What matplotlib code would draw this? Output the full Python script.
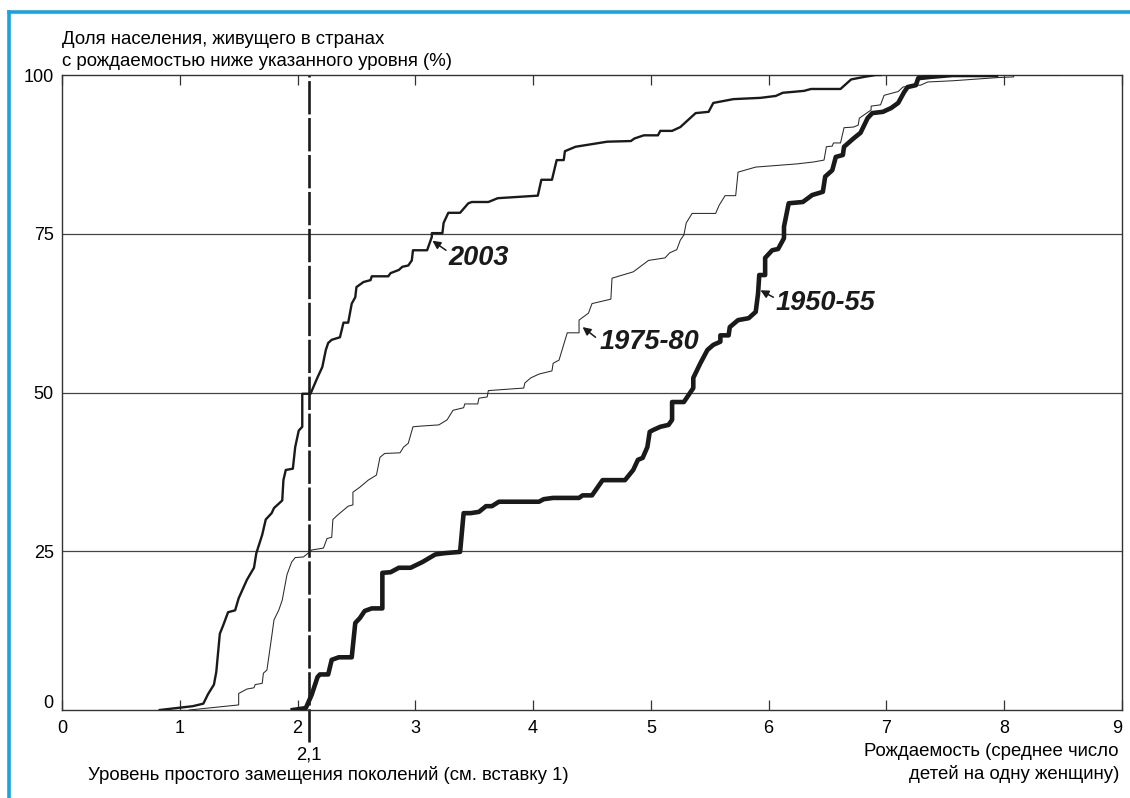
import matplotlib.pyplot as plt
import matplotlib.transforms as mtransforms
from matplotlib.lines import Line2D

plt.rcParams['font.family'] = ['Liberation Sans', 'DejaVu Sans']
plt.rcParams['lines.scale_dashes'] = False

# cumulative share of population (%) by fertility level
curve_2003 = [(0.83, 0), (1.11, 0.6), (1.2, 1), (1.24, 2.5), (1.29, 4), (1.31, 6),
              (1.34, 12), (1.37, 13.4), (1.41, 15.4), (1.47, 15.7), (1.5, 17.6),
              (1.57, 20.5), (1.63, 22.4), (1.65, 24.7), (1.7, 27.6), (1.73, 30),
              (1.78, 31), (1.8, 31.8), (1.87, 33), (1.88, 36.2), (1.9, 37.8),
              (1.96, 38), (1.98, 41.4), (2.01, 44), (2.04, 44.6), (2.04, 49.8),
              (2.11, 49.8), (2.17, 52.4), (2.21, 54), (2.24, 56.7), (2.26, 57.8),
              (2.29, 58.3), (2.36, 58.7), (2.39, 61), (2.43, 61), (2.46, 64),
              (2.49, 65), (2.5, 66.6), (2.56, 67.4), (2.62, 67.7), (2.63, 68.3),
              (2.77, 68.3), (2.79, 68.8), (2.86, 69.3), (2.89, 69.8), (2.94, 70),
              (2.97, 70.8), (2.98, 72.4), (3.1, 72.4), (3.14, 74.5), (3.14, 75.1),
              (3.23, 75.1), (3.24, 76.7), (3.28, 78.3), (3.38, 78.3), (3.45, 79.8),
              (3.48, 80), (3.62, 80), (3.7, 80.6), (4.04, 81), (4.07, 83.5),
              (4.16, 83.5), (4.2, 86.6), (4.26, 86.6), (4.27, 88), (4.36, 88.7),
              (4.63, 89.5), (4.83, 89.6), (4.86, 90), (4.94, 90.5), (5.06, 90.5),
              (5.08, 91.2), (5.18, 91.2), (5.25, 91.8), (5.38, 94), (5.49, 94.2),
              (5.53, 95.6), (5.7, 96.2), (5.93, 96.4), (6.06, 96.7), (6.12, 97.2),
              (6.3, 97.5), (6.36, 97.8), (6.61, 97.8), (6.7, 99.3), (6.81, 99.7),
              (6.91, 100), (6.95, 100)]

curve_1975 = [(1.08, 0), (1.5, 0.8), (1.5, 2.6), (1.57, 3.3), (1.63, 3.5), (1.64, 4),
              (1.7, 4.2), (1.71, 5.8), (1.74, 6.3), (1.78, 11.5), (1.8, 14.2),
              (1.84, 15.7), (1.87, 17.3), (1.91, 21.3), (1.95, 23.3), (1.98, 24),
              (2.05, 24.1), (2.09, 24.7), (2.12, 25.2), (2.22, 25.5), (2.25, 27),
              (2.29, 27.2), (2.3, 30), (2.34, 30.7), (2.43, 32.1), (2.47, 32.3),
              (2.47, 34.3), (2.53, 35.1), (2.6, 36.2), (2.67, 37), (2.7, 39.8),
              (2.74, 40.4), (2.87, 40.5), (2.9, 41.4), (2.94, 42), (2.98, 44.6),
              (3.04, 44.7), (3.2, 44.9), (3.27, 45.7), (3.32, 47.2), (3.41, 47.6),
              (3.42, 48.2), (3.53, 48.2), (3.54, 49.1), (3.61, 49.3), (3.62, 50.3),
              (3.92, 50.7), (3.93, 51.5), (3.98, 52.3), (4.05, 52.9), (4.16, 53.4),
              (4.17, 54.6), (4.22, 55.1), (4.29, 59.4), (4.39, 59.4), (4.39, 61.4),
              (4.47, 62.5), (4.5, 64), (4.66, 64.7), (4.67, 68), (4.85, 69),
              (4.98, 70.8), (5.12, 71.2), (5.16, 72), (5.22, 72.5), (5.25, 74),
              (5.28, 74.8), (5.3, 76.7), (5.35, 78.2), (5.55, 78.2), (5.58, 79.5),
              (5.63, 81), (5.72, 81), (5.74, 84.7), (5.89, 85.5), (6.24, 86),
              (6.38, 86.3), (6.47, 86.6), (6.49, 88.7), (6.54, 88.8), (6.55, 89.3),
              (6.61, 89.3), (6.64, 91.7), (6.72, 91.8), (6.76, 92.1), (6.77, 93.2),
              (6.87, 94.5), (6.87, 95.1), (6.95, 95.3), (6.98, 96.8), (7.06, 97.2),
              (7.1, 97.4), (7.14, 98.1), (7.23, 98.4), (7.29, 98.4), (7.35, 98.9),
              (7.57, 99.1), (7.95, 99.6), (8.08, 99.7), (8.08, 100), (8.46, 100)]

curve_1950 = [(1.96, 0), (2.07, 0.3), (2.12, 2.4), (2.17, 5.2), (2.19, 5.6), (2.26, 5.6),
              (2.29, 7.9), (2.35, 8.3), (2.46, 8.3), (2.49, 13.7), (2.53, 14.5),
              (2.57, 15.6), (2.63, 16), (2.72, 16), (2.72, 21.6), (2.79, 21.7),
              (2.86, 22.4), (2.96, 22.4), (3.06, 23.3), (3.17, 24.5), (3.25, 24.7),
              (3.38, 24.9), (3.41, 31), (3.47, 31), (3.54, 31.2), (3.6, 32.1),
              (3.65, 32.1), (3.71, 32.8), (4.05, 32.8), (4.09, 33.2), (4.17, 33.4),
              (4.39, 33.4), (4.42, 33.8), (4.5, 33.8), (4.59, 36.2), (4.78, 36.2),
              (4.85, 37.8), (4.89, 39.4), (4.93, 39.7), (4.97, 41.4), (4.99, 43.8),
              (5.02, 44.1), (5.08, 44.6), (5.15, 44.9), (5.18, 45.7), (5.18, 48.5),
              (5.28, 48.5), (5.36, 50.7), (5.36, 52.3), (5.42, 54.6), (5.48, 56.7),
              (5.53, 57.5), (5.59, 58), (5.59, 59), (5.66, 59), (5.67, 60.3),
              (5.74, 61.4), (5.83, 61.7), (5.89, 62.7), (5.91, 65.6), (5.92, 68.5),
              (5.97, 68.5), (5.97, 71.2), (6.03, 72.4), (6.08, 72.6), (6.13, 74.3),
              (6.13, 76.1), (6.17, 79.8), (6.29, 80), (6.37, 81.1), (6.46, 81.6),
              (6.48, 84), (6.54, 85), (6.57, 87.1), (6.63, 87.4), (6.64, 88.7),
              (6.72, 90), (6.78, 90.9), (6.84, 93.2), (6.88, 94), (6.97, 94.2),
              (7.04, 94.8), (7.1, 95.6), (7.15, 97.3), (7.18, 98.1), (7.25, 98.4),
              (7.27, 99.5), (7.37, 99.7), (7.56, 100), (7.93, 100)]

replacement_level = 2.1
x_ticks = list(range(10))
y_ticks = [0, 25, 50, 75, 100]

fig = plt.figure(figsize=(11.3, 7.98), dpi=100)
W, H = 1130, 798
ax = fig.add_axes([62 / W, 1 - 710 / H, (1122 - 62) / W, (710 - 75) / H])

# horizontal reference lines
for yv in [25, 50, 75]:
    ax.axhline(yv, color='#444444', lw=0.9, zorder=1)

# replacement level, dashed, running a bit below the axis
ax.plot([replacement_level, replacement_level], [-5, 100], color='#1a1a1a', lw=1.9,
        dashes=(24, 2.6), clip_on=False, zorder=2)

xs, ys = zip(*curve_1975)
ax.plot(xs, ys, color='#2a2a2a', lw=0.75, zorder=3)
xs, ys = zip(*curve_2003)
ax.plot(xs, ys, color='#1a1a1a', lw=1.7, zorder=4)
xs, ys = zip(*curve_1950)
ax.plot(xs, ys, color='#1a1a1a', lw=3.3, zorder=5)

ax.set_xlim(0, 9)
ax.set_ylim(0, 100)
ax.set_xticks(x_ticks)
ax.set_yticks(y_ticks)
ax.tick_params(axis='x', direction='in', top=True, length=7, width=0.9,
               color='#333333', labelsize=13, pad=7)
ax.tick_params(axis='y', length=0, labelsize=13, pad=6)
for s in ax.spines.values():
    s.set_color('#333333')
    s.set_linewidth(1.0)

# the "0" label sits a little above the bottom axis, the "9" ends at the frame
zero_lab = ax.get_yticklabels()[0]
zero_lab.set_transform(zero_lab.get_transform() +
                       mtransforms.ScaledTranslation(0, 8 / 100, fig.dpi_scale_trans))
ax.get_xticklabels()[-1].set_horizontalalignment('right')

# curve labels with small arrows
labels = [('2003', (3.145, 73.9), (3.26, 72.4), (3.28, 71.2)),
          ('1975-80', (4.42, 60.3), (4.53, 58.7), (4.56, 58.0)),
          ('1950-55', (5.93, 66.1), (6.04, 65.0), (6.06, 64.1))]
for txt, tip, tail, pos in labels:
    ax.annotate('', xy=tip, xytext=tail,
                arrowprops=dict(arrowstyle='-|>', color='#1a1a1a', lw=1.1,
                                mutation_scale=12, shrinkA=0, shrinkB=0))
    ax.text(pos[0], pos[1], txt, fontsize=19.5, fontweight='bold', style='italic',
            ha='left', va='center', color='#1a1a1a')

ax.text(replacement_level, -7.1, '2,1', ha='center', va='center', fontsize=13.3,
        clip_on=False)

fs = 13.4
fig.text(62 / W, 1 - 40 / H, 'Доля населения, живущего в странах',
         ha='left', va='center', fontsize=fs)
fig.text(62 / W, 1 - 62 / H, 'с рождаемостью ниже указанного уровня (%)',
         ha='left', va='center', fontsize=fs)
fig.text(88 / W, 1 - 775 / H, 'Уровень простого замещения поколений (см. вставку 1)',
         ha='left', va='center', fontsize=fs)
fig.text(1119 / W, 1 - 751 / H, 'Рождаемость (среднее число',
         ha='right', va='center', fontsize=fs)
fig.text(1119 / W, 1 - 774 / H, 'детей на одну женщину)',
         ha='right', va='center', fontsize=fs)

# blue frame (left and top edges)
blue = '#1ba3e0'
fig.add_artist(Line2D([9 / W, 9 / W], [0, 1 - 11.5 / H], color=blue, lw=2.6,
                      transform=fig.transFigure))
fig.add_artist(Line2D([9 / W, 1], [1 - 11.5 / H, 1 - 11.5 / H], color=blue, lw=2.6,
                      transform=fig.transFigure, solid_capstyle='projecting'))

fig.savefig('out.png', dpi=100)
